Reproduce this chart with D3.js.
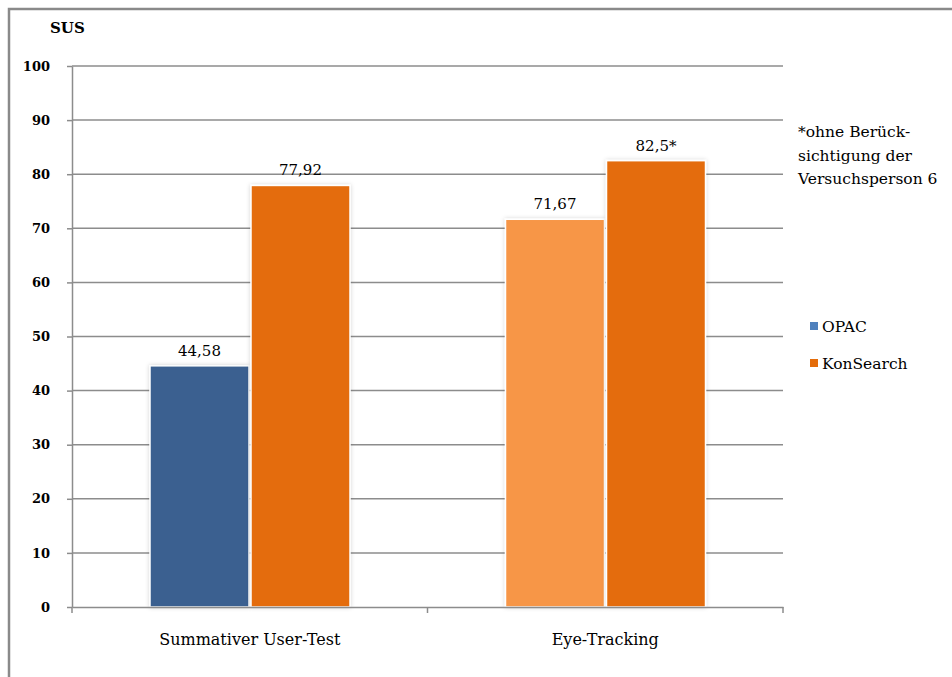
<!DOCTYPE html>
<html>
<head>
<meta charset="utf-8">
<script src="https://cdn.jsdelivr.net/npm/d3@7"></script>
<style>
  body { margin: 0; background: #fff; }
</style>
</head>
<body>
<div class="chart"></div>
<script>
// DATA ---------------------------------------------------------------
const categories = ['Summativer User-Test', 'Eye-Tracking'];
const seriesNames = ['OPAC', 'KonSearch'];
const opacValues = [44.58, 71.67];
const konsearchValues = [77.92, 82.5];
const valueLabels = ['44,58', '71,67', '77,92', '82,5*'];
const yTicks = [0, 10, 20, 30, 40, 50, 60, 70, 80, 90, 100];
const legendColors = ['#4F81BD', '#E46C0A'];
// bar fills as drawn: OPAC in user test, then Eye-Tracking left bar is light orange
const barColors = ['#3A6090', '#F79646', '#E46C0A', '#E46C0A'];

const FONT = "'DejaVu Serif'";

// CHART INIT ---------------------------------------------------------
const W = 952, H = 677;
const svg = d3.select('.chart')
    .append('svg')
    .attr('width', W)
    .attr('height', H)
    .style('font-family', FONT);

const defs = svg.append('defs');
const f = defs.append('filter').attr('id', 'shadow')
    .attr('x', '-10%').attr('y', '-10%').attr('width', '120%').attr('height', '120%');
f.append('feDropShadow')
    .attr('dx', 0).attr('dy', 0).attr('stdDeviation', 2)
    .attr('flood-color', '#000').attr('flood-opacity', 0.18);

// outer frame
svg.append('rect')
    .attr('x', 9).attr('y', 9)
    .attr('width', W + 20).attr('height', H + 20)
    .attr('fill', 'none')
    .attr('stroke', '#8a8a8a')
    .attr('stroke-width', 2.5);

const xScale = d3.scaleBand()
    .domain(categories)
    .range([72, 783]);

const xInner = d3.scaleBand()
    .domain(seriesNames)
    .range([78, 278])
    .paddingInner(0.02);

const yScale = d3.scaleLinear()
    .domain([0, 100])
    .range([607, 66]);

// gridlines
svg.append('g')
    .selectAll('line')
    .data(yTicks.filter(d => d > 0))
    .join('line')
    .attr('x1', 72).attr('x2', 783)
    .attr('y1', d => yScale(d)).attr('y2', d => yScale(d))
    .attr('stroke', '#8c8c8c')
    .attr('stroke-width', 1.5);

// y axis
const yAxis = d3.axisLeft(yScale)
    .tickValues(yTicks)
    .tickSize(5)
    .tickPadding(17)
    .tickSizeOuter(0);

svg.append('g')
    .attr('class', 'axis y-axis')
    .attr('transform', 'translate(72,0)')
    .call(yAxis)
    .call(g => g.selectAll('path, line').attr('stroke', '#8c8c8c').attr('stroke-width', 1.5))
    .call(g => g.selectAll('text')
        .style('font-family', FONT)
        .style('font-size', '13px')
        .style('font-weight', 'bold')
        .attr('fill', '#000'));

// y axis title
svg.append('text')
    .attr('x', 50).attr('y', 33)
    .style('font-size', '15px')
    .style('font-weight', 'bold')
    .text('SUS');

// bars
const bars = [];
categories.forEach((c, i) => {
    bars.push({cat: c, series: 'OPAC', value: opacValues[i]});
});
categories.forEach((c, i) => {
    bars.push({cat: c, series: 'KonSearch', value: konsearchValues[i]});
});
bars.forEach((d, i) => { d.color = barColors[i]; d.label = valueLabels[i]; });

svg.append('g')
    .selectAll('rect')
    .data(bars)
    .join('rect')
    .attr('x', d => xScale(d.cat) + xInner(d.series))
    .attr('y', d => yScale(d.value))
    .attr('width', xInner.bandwidth())
    .attr('height', d => yScale(0) - yScale(d.value))
    .attr('fill', d => d.color)
    .attr('stroke', '#fff')
    .attr('stroke-width', 1.5)
    .attr('filter', 'url(#shadow)');

svg.append('g')
    .selectAll('text')
    .data(bars)
    .join('text')
    .attr('x', d => xScale(d.cat) + xInner(d.series) + xInner.bandwidth() / 2)
    .attr('y', d => yScale(d.value) - 10)
    .attr('text-anchor', 'middle')
    .style('font-size', '15px')
    .text(d => d.label);

// x axis
const xAxis = d3.axisBottom(xScale)
    .tickSize(0)
    .tickPadding(27);

svg.append('g')
    .attr('class', 'axis x-axis')
    .attr('transform', 'translate(0,607)')
    .call(xAxis)
    .call(g => g.select('.domain').attr('stroke', '#8c8c8c').attr('stroke-width', 1.5))
    .call(g => g.selectAll('text')
        .style('font-family', FONT)
        .style('font-size', '16px')
        .attr('fill', '#000'));

// x axis ticks between categories
const bounds = [xScale.range()[0]].concat(categories.map(c => xScale(c) + xScale.bandwidth()));
svg.append('g')
    .selectAll('line')
    .data(bounds)
    .join('line')
    .attr('x1', d => d).attr('x2', d => d)
    .attr('y1', 607).attr('y2', 613)
    .attr('stroke', '#8c8c8c')
    .attr('stroke-width', 1.5);

// footnote
const note = ['*ohne Berück-', 'sichtigung der', 'Versuchsperson 6'];
svg.append('text')
    .style('font-size', '15.5px')
    .selectAll('tspan')
    .data(note)
    .join('tspan')
    .attr('x', 798)
    .attr('y', (d, i) => 137 + i * 23.5)
    .text(d => d);

// legend
const legend = svg.append('g')
    .selectAll('g')
    .data(seriesNames)
    .join('g')
    .attr('transform', (d, i) => 'translate(810,' + (326 + i * 37) + ')');

legend.append('rect')
    .attr('x', 0).attr('y', -4)
    .attr('width', 8).attr('height', 8)
    .attr('fill', (d, i) => legendColors[i]);

legend.append('text')
    .attr('x', 12).attr('y', 6)
    .style('font-size', '15.5px')
    .text(d => d);
</script>
</body>
</html>
